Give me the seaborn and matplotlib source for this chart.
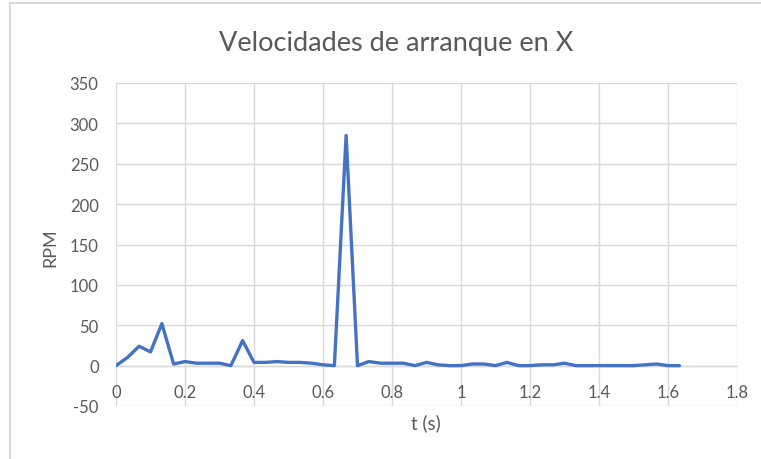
import matplotlib
matplotlib.use("Agg")
import matplotlib.pyplot as plt
import seaborn as sns
import pandas as pd
from matplotlib.patches import Rectangle

# ---- data ----
t_s = [0.000, 0.033, 0.067, 0.100, 0.133, 0.167, 0.200, 0.233, 0.267, 0.300,
       0.333, 0.367, 0.400, 0.433, 0.467, 0.500, 0.533, 0.567, 0.600, 0.633,
       0.667, 0.700, 0.733, 0.767, 0.800, 0.833, 0.867, 0.900, 0.933, 0.967,
       1.000, 1.033, 1.067, 1.100, 1.133, 1.167, 1.200, 1.233, 1.267, 1.300,
       1.333, 1.367, 1.400, 1.433, 1.467, 1.500, 1.533, 1.567, 1.600, 1.633]
rpm = [0, 10, 24, 17, 52, 2, 5, 3, 3, 3,
       0, 31, 4, 4, 5, 4, 4, 3, 1, 0,
       285, 0, 5, 3, 3, 3, 0, 4, 1, 0,
       0, 2, 2, 0, 4, 0, 0, 1, 1, 3,
       0, 0, 0, 0, 0, 0, 1, 2, 0, 0]

x_ticks = [0, 0.2, 0.4, 0.6, 0.8, 1.0, 1.2, 1.4, 1.6, 1.8]
x_tick_labels = ["0", "0.2", "0.4", "0.6", "0.8", "1", "1.2", "1.4", "1.6", "1.8"]
y_ticks = [-50, 0, 50, 100, 150, 200, 250, 300, 350]
y_tick_labels = ["-50", "0", "50", "100", "150", "200", "250", "300", "350"]

title = "Velocidades de arranque en X"
x_label = "t (s)"
y_label = "RPM"

df = pd.DataFrame({"t": t_s, "rpm": rpm})

sns.set_theme(style="white")
plt.rcParams["font.family"] = ["Lato", "DejaVu Sans"]

W, H = 761, 460
fig = plt.figure(figsize=(W / 100, H / 100), dpi=100)
ax = fig.add_axes([116 / W, (H - 407) / H, 621 / W, 323 / H])

grid_c = "#D9D9D9"
text_c = "#595959"

sns.lineplot(data=df, x="t", y="rpm", ax=ax, color="#4472C4", linewidth=2.4,
             zorder=3)

ax.set_xlim(0, 1.8)
ax.set_ylim(-50, 350)
ax.set_xticks(x_ticks)
ax.set_xticklabels(x_tick_labels)
ax.set_yticks(y_ticks)
ax.set_yticklabels(y_tick_labels)
ax.grid(True, color=grid_c, linewidth=1.0, zorder=0)
ax.set_axisbelow(True)

for side in ["top", "right", "left"]:
    ax.spines[side].set_visible(False)
ax.spines["bottom"].set_position(("data", 0))
ax.spines["bottom"].set_color(grid_c)
ax.spines["bottom"].set_linewidth(1.0)

ax.tick_params(axis="x", length=0, pad=13.5, labelsize=12, labelcolor=text_c)
ax.tick_params(axis="y", length=0, pad=12.5, labelsize=12, labelcolor=text_c)
ax.set_xlabel("")
ax.set_ylabel("")

fig.text(426 / W, 1 - 423 / H, x_label, ha="center", va="center",
         fontsize=13.5, color=text_c)
fig.text(50 / W, 1 - 248 / H, y_label, ha="center", va="center",
         rotation=90, fontsize=13, color=text_c)
fig.text(396 / W, 1 - 43 / H, title, ha="center", va="center",
         fontsize=19.5, color=text_c, fontweight="normal")

# chart border (cropped on right and bottom)
fig.patches.append(Rectangle((10 / W, -0.05), 1.2, (H - 4) / H + 0.05,
                             transform=fig.transFigure, fill=False,
                             edgecolor=grid_c, linewidth=1.5))

fig.savefig("out.png", dpi=100, facecolor="white")
